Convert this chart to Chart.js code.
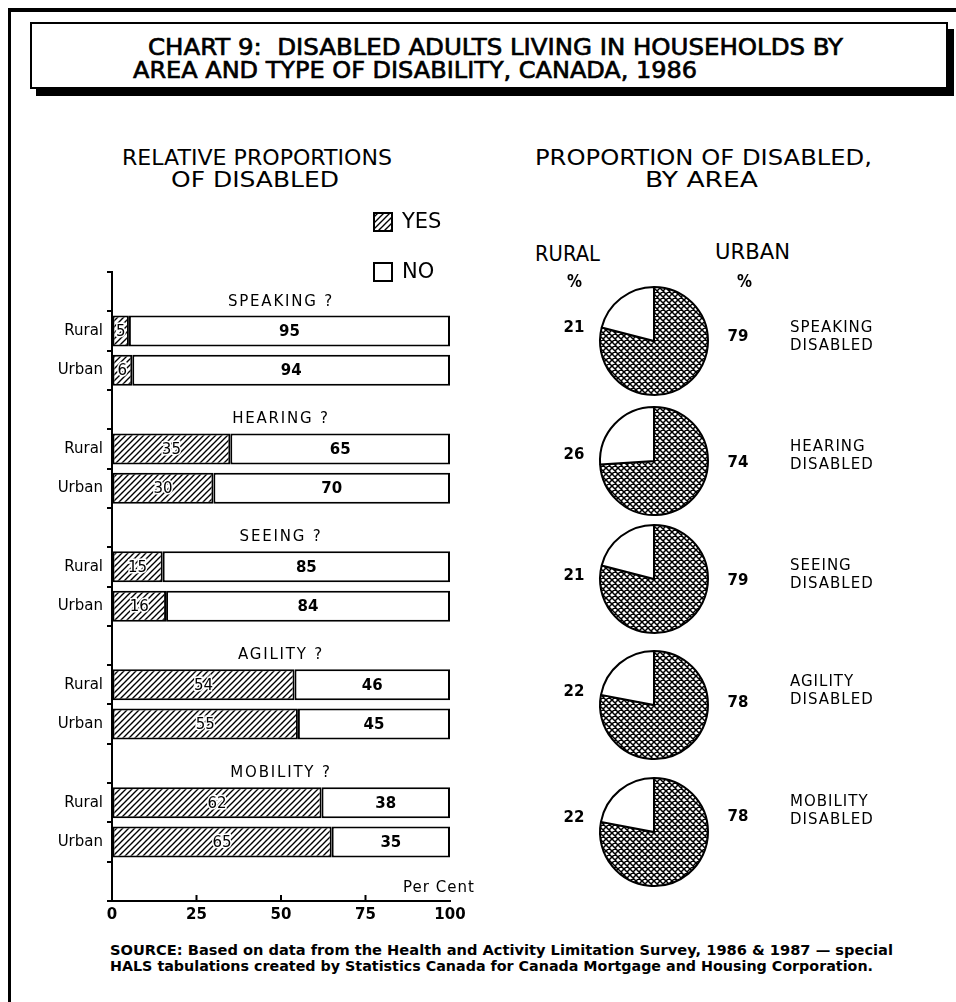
<!DOCTYPE html>
<html>
<head>
<meta charset="utf-8">
<title>Disabled adults living in households by area and type of disability, Canada, 1986</title>
<script src="https://cdn.jsdelivr.net/npm/chart.js@4.4.1/dist/chart.umd.min.js"></script>
<style>
  html, body { margin: 0; padding: 0; background: #fff; }
  body { width: 956px; height: 1002px; position: relative; overflow: hidden;
         font-family: "DejaVu Sans", "Liberation Sans", sans-serif; color: #000; }
  .rule { position: absolute; background: #000; }
  .titlebox { position: absolute; left: 30px; top: 22px; width: 914px; height: 63px;
              border: 2px solid #000; background: #fff; box-shadow: 6px 7px 0 #000; }
  .txt { position: absolute; white-space: pre; line-height: 1; transform-origin: 0 50%; }
  canvas { position: absolute; }
</style>
</head>
<body>
<div class="rule" style="left:8px;top:8px;width:948px;height:4px;"></div>
<div class="rule" style="left:8px;top:8px;width:3px;height:994px;"></div>
<div class="titlebox"></div>
<canvas id="bars" width="500" height="741" style="left:0;top:195px;"></canvas>
<div id="pies"></div>

<script>
// ---- Data ---------------------------------------------------------------
const disabilities = ['SPEAKING', 'HEARING', 'SEEING', 'AGILITY', 'MOBILITY'];
const areas = ['Rural', 'Urban'];
const answerLabels = ['YES', 'NO'];

// Share of adults answering YES / NO, by area (per cent)
const yesRural = [5, 35, 15, 54, 62];
const noRural  = [95, 65, 85, 46, 38];
const yesUrban = [6, 30, 16, 55, 65];
const noUrban  = [94, 70, 84, 45, 35];

// Proportion of the disabled living in each area (per cent)
const pieRural = [21, 26, 21, 22, 22];
const pieUrban = [79, 74, 79, 78, 78];

const pctTicks = [0, 25, 50, 75, 100];

// ---- Layout (page positions, not data) ---------------------------------
const pieCentreX = 654;
const pieRadius = 55;
const pieCentreY = [341, 461, 579, 705, 832];
const ruralLabelY = [328, 455, 576, 692, 818];
const urbanLabelY = [337, 463, 581, 703, 817];
const nameLabelY  = [328, 447, 566, 682, 802];

const FONT = '"DejaVu Sans", "Liberation Sans", sans-serif';
const COND = '"Liberation Sans Narrow", "DejaVu Sans Condensed", "DejaVu Sans", sans-serif';

// ---- Static text --------------------------------------------------------
const texts = [
  // text, left, centre y, width, size, weight, family
  ['CHART 9:  DISABLED ADULTS LIVING IN HOUSEHOLDS BY', 148, 47, 695, 23, 'normal', 'cond'],
  ['AREA AND TYPE OF DISABILITY, CANADA, 1986',        133, 70, 564, 23, 'normal', 'cond'],
  ['RELATIVE PROPORTIONS', 122, 158, 270, 21, 'normal'],
  ['OF DISABLED',          171, 180, 168, 21, 'normal'],
  ['PROPORTION OF DISABLED,', 535, 158, 337, 21, 'normal'],
  ['BY AREA',              645, 180, 113, 21, 'normal'],
  ['RURAL',                535, 254, 65, 21, 'normal'],
  ['URBAN',                715, 252, 75, 21, 'normal'],
  ['%',                    567, 281, 15, 18, 'bold'],
  ['%',                    737, 281, 15, 18, 'bold'],
  ['SOURCE: Based on data from the Health and Activity Limitation Survey, 1986 & 1987 \u2014 special', 110, 950, 783, 14, 'bold'],
  ['HALS tabulations created by Statistics Canada for Canada Mortgage and Housing Corporation.', 110, 966, 763, 14, 'bold']
];
texts.forEach(([t, x, cy, w, size, weight, fam]) => {
  const el = document.createElement('div');
  el.className = 'txt';
  el.textContent = t;
  el.style.fontSize = size + 'px';
  el.style.fontWeight = weight;
  el.style.fontFamily = fam === 'cond' ? COND : FONT;
  if (fam === 'cond') {
    el.style.fontStretch = 'condensed';
    el.style.webkitTextStroke = '0.6px #000';
  }
  el.style.left = x + 'px';
  el.style.top = (cy - size / 2) + 'px';
  document.body.appendChild(el);
  const natural = el.getBoundingClientRect().width;
  el.style.transform = 'scaleX(' + (w / natural) + ')';
});

// ---- Fill patterns ------------------------------------------------------
function makePattern(draw, size) {
  const tile = document.createElement('canvas');
  tile.width = size; tile.height = size;
  const c = tile.getContext('2d');
  c.fillStyle = '#fff';
  c.fillRect(0, 0, size, size);
  c.strokeStyle = '#000';
  draw(c, size);
  return c.createPattern(tile, 'repeat');
}
// single diagonal hatch for the YES bars
const hatch = makePattern((c, s) => {
  c.lineWidth = 1.4;
  c.beginPath();
  for (let k = -s; k <= s; k += s) { c.moveTo(k - 1, s + 1); c.lineTo(k + s + 1, -1); }
  c.stroke();
}, 6);
// fine cross-hatch for the urban slices
const crossHatch = makePattern((c, s) => {
  c.lineWidth = 1.5;
  c.beginPath();
  for (let k = -s; k <= s; k += s) {
    c.moveTo(k - 1, s + 1); c.lineTo(k + s + 1, -1);
    c.moveTo(k - 1, -1);    c.lineTo(k + s + 1, s + 1);
  }
  c.stroke();
}, 6);

// ---- Bar chart rows: a header row per disability, then Rural, Urban -----
const rowLabels = [], yesData = [], noData = [];
disabilities.forEach((d, i) => {
  rowLabels.push('', areas[0], areas[1]);
  yesData.push(null, yesRural[i], yesUrban[i]);
  noData.push(null, noRural[i], noUrban[i]);
});
rowLabels.push('');
yesData.push(null);
noData.push(null);

const barDecor = {
  id: 'barDecor',
  afterDatasetsDraw(chart) {
    const { ctx, chartArea, scales: { x, y } } = chart;
    ctx.save();
    ctx.fillStyle = '#000';
    ctx.textBaseline = 'middle';

    // segment values
    chart.data.datasets.forEach((ds, di) => {
      chart.getDatasetMeta(di).data.forEach((bar, i) => {
        const v = ds.data[i];
        if (v == null) return;
        const cx = (bar.base + bar.x) / 2;
        const cy = bar.y + 1;
        ctx.textAlign = 'center';
        if (di === 0) {
          ctx.font = '15px ' + FONT;
          ctx.lineWidth = 3;
          ctx.strokeStyle = '#fff';
          ctx.strokeText(String(v), cx, cy);
        } else {
          ctx.font = 'bold 15px ' + FONT;
        }
        ctx.fillText(String(v), cx, cy);
      });
    });

    // disability headings above each pair of bars
    ctx.font = '15px ' + FONT;
    ctx.letterSpacing = '1.8px';
    ctx.textAlign = 'center';
    disabilities.forEach((d, i) => {
      ctx.fillText(d + ' ?', x.getPixelForValue(50), y.getPixelForValue(3 * i) + 10);
    });
    ctx.letterSpacing = '0px';

    // inward tick marks on the value axis
    ctx.strokeStyle = '#000';
    ctx.lineWidth = 2;
    ctx.beginPath();
    pctTicks.slice(1, -1).forEach(v => {
      const px = x.getPixelForValue(v);
      ctx.moveTo(px, chartArea.bottom);
      ctx.lineTo(px, chartArea.bottom - 6);
    });
    ctx.stroke();

    // axis caption
    ctx.font = '15px ' + FONT;
    ctx.letterSpacing = '1px';
    ctx.textAlign = 'left';
    ctx.fillText('Per Cent', 403, chartArea.bottom - 13);
    ctx.letterSpacing = '0px';

    // legend
    const swatches = [hatch, '#fff'];
    answerLabels.forEach((lab, i) => {
      const top = 213 - 195 + i * 50;
      ctx.fillStyle = swatches[i];
      ctx.fillRect(374, top, 18, 18);
      ctx.lineWidth = 2;
      ctx.strokeRect(374, top, 18, 18);
      ctx.fillStyle = '#000';
      ctx.font = '21px ' + FONT;
      ctx.fillText(lab, 402, top + 10);
    });
    ctx.restore();
  }
};

new Chart(document.getElementById('bars'), {
  type: 'bar',
  data: {
    labels: rowLabels,
    datasets: [
      { label: answerLabels[0], data: yesData, backgroundColor: hatch,
        borderColor: '#000', borderWidth: 2, borderSkipped: false },
      { label: answerLabels[1], data: noData, backgroundColor: '#fff',
        borderColor: '#000', borderWidth: 2, borderSkipped: false }
    ]
  },
  options: {
    indexAxis: 'y',
    responsive: false,
    animation: false,
    devicePixelRatio: 1,
    layout: { padding: { left: 42, right: 50, top: 77, bottom: 5 } },
    datasets: { bar: { barPercentage: 0.79, categoryPercentage: 1 } },
    scales: {
      x: {
        stacked: true, min: 0, max: 100,
        afterBuildTicks(s) { s.ticks = pctTicks.map(v => ({ value: v })); },
        ticks: { color: '#000', font: { family: FONT, size: 15, weight: 'bold' }, padding: 5 },
        grid: { drawOnChartArea: false, drawTicks: false },
        border: { color: '#000', width: 2 },
        afterFit(s) { s.height = 30; }
      },
      y: {
        stacked: true,
        ticks: { color: '#000', font: { family: FONT, size: 15 }, padding: 4, autoSkip: false },
        grid: { drawOnChartArea: false, drawTicks: true, tickLength: 5, color: '#000', lineWidth: 2 },
        border: { color: '#000', width: 2 },
        afterFit(s) { s.width = 70; }
      }
    },
    plugins: { legend: { display: false }, tooltip: { enabled: false } }
  },
  plugins: [barDecor]
});

// ---- Pie charts: share of the disabled living in urban / rural areas ----
const pieText = {
  id: 'pieText',
  afterDraw(chart) {
    const { ctx } = chart;
    const o = chart.options.plugins.pieText;
    const [urban, rural] = chart.data.datasets[0].data;
    const top = o.canvasTop, left = o.canvasLeft;
    ctx.save();
    ctx.fillStyle = '#000';
    ctx.textBaseline = 'middle';
    ctx.font = 'bold 15px ' + FONT;
    ctx.textAlign = 'center';
    ctx.fillText(String(rural), pieCentreX - 80 - left, o.ruralY - top);
    ctx.fillText(String(urban), pieCentreX + 84 - left, o.urbanY - top);
    ctx.textAlign = 'left';
    ctx.font = '15px ' + FONT;
    ctx.letterSpacing = '1px';
    ctx.fillText(o.name, 790 - left, o.nameY - top);
    ctx.fillText('DISABLED', 790 - left, o.nameY + 18 - top);
    ctx.restore();
  }
};

const pieHost = document.getElementById('pies');
disabilities.forEach((d, i) => {
  const cv = document.createElement('canvas');
  const left = 540, top = pieCentreY[i] - pieRadius - 10;
  const w = 380, h = 2 * pieRadius + 20;
  cv.width = w; cv.height = h;
  cv.style.left = left + 'px';
  cv.style.top = top + 'px';
  pieHost.appendChild(cv);
  new Chart(cv, {
    type: 'pie',
    data: {
      labels: ['Urban', 'Rural'],
      datasets: [{
        data: [pieUrban[i], pieRural[i]],
        backgroundColor: [crossHatch, '#fff'],
        borderColor: '#000',
        borderWidth: 2
      }]
    },
    options: {
      responsive: false,
      animation: false,
      devicePixelRatio: 1,
      layout: { padding: {
        left: pieCentreX - pieRadius - left,
        right: w - (pieCentreX + pieRadius - left),
        top: 10, bottom: 10 } },
      plugins: {
        legend: { display: false },
        tooltip: { enabled: false },
        pieText: { name: d, canvasTop: top, canvasLeft: left,
                   ruralY: ruralLabelY[i], urbanY: urbanLabelY[i], nameY: nameLabelY[i] }
      }
    },
    plugins: [pieText]
  });
});
</script>
</body>
</html>
